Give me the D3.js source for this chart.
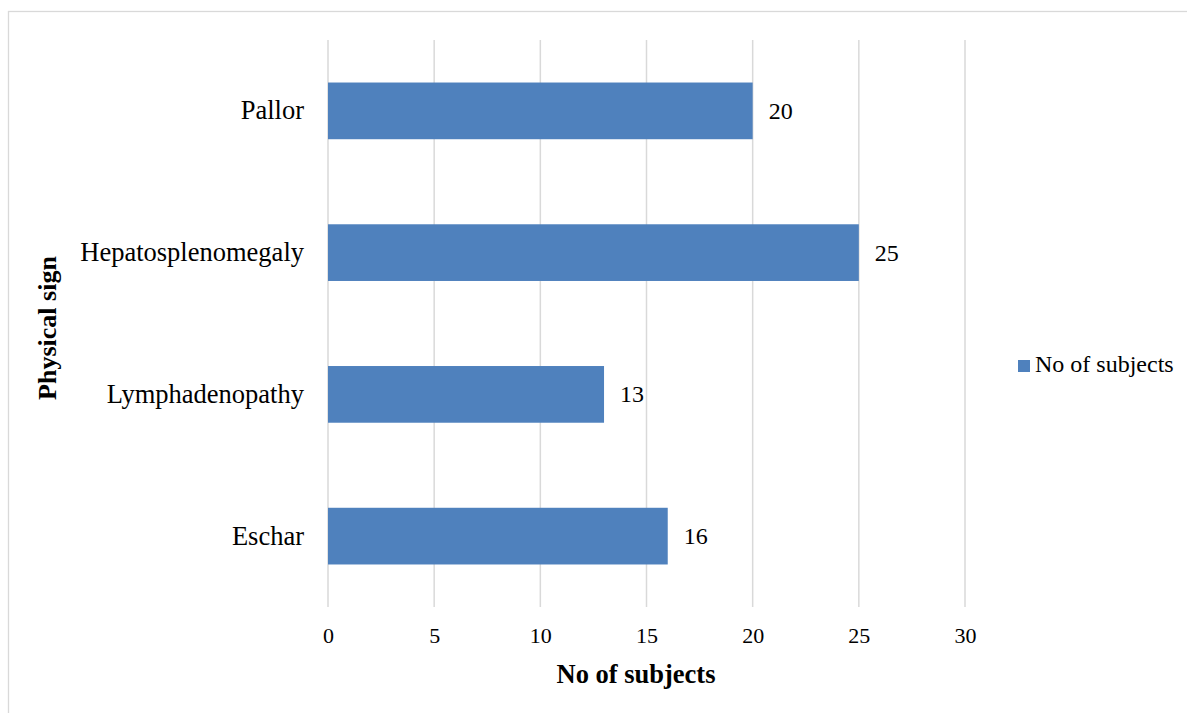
<!DOCTYPE html>
<html>
<head>
<meta charset="utf-8">
<script src="https://cdn.jsdelivr.net/npm/d3@7"></script>
<style>
  html, body { margin: 0; padding: 0; background: #fff; }
  svg { display: block; }
  svg text { font-family: "Liberation Serif", "Times New Roman", serif; fill: #000; }
</style>
</head>
<body>
<svg id="chart" width="1187" height="713"></svg>
<script>
// Physical signs and the number of subjects showing each one
const categories = ["Pallor", "Hepatosplenomegaly", "Lymphadenopathy", "Eschar"];
const subjects = [20, 25, 13, 16];
const xTicks = [0, 5, 10, 15, 20, 25, 30];
const seriesName = "No of subjects";
const xTitle = "No of subjects";
const yTitle = "Physical sign";

const svg = d3.select("#chart");
const W = 1187, H = 713;
const margin = { left: 328, right: 222, top: 40, bottom: 106 };

// Outer frame of the chart area
svg.append("rect")
  .attr("x", 8.5).attr("y", 11.5)
  .attr("width", W + 10).attr("height", H + 10)
  .attr("fill", "none").attr("stroke", "#d9d9d9").attr("stroke-width", 1.3);

const x = d3.scaleLinear().domain([0, 30]).range([margin.left, W - margin.right]);
const y = d3.scaleBand().domain(categories)
  .range([margin.top, H - margin.bottom])
  .paddingInner(0.6).paddingOuter(0.3);

// Vertical gridlines
svg.append("g")
  .selectAll("line").data(xTicks).join("line")
  .attr("x1", d => x(d)).attr("x2", d => x(d))
  .attr("y1", margin.top).attr("y2", H - margin.bottom)
  .attr("stroke", "#d9d9d9").attr("stroke-width", 1.5);

// X axis tick labels
const xAxis = d3.axisBottom(x).tickValues(xTicks).tickSize(0).tickPadding(20);
const gx = svg.append("g")
  .attr("transform", `translate(0,${H - margin.bottom})`)
  .call(xAxis)
  .attr("font-family", null).attr("font-size", null);
gx.select(".domain").remove();
gx.selectAll("text").style("font-size", "22px");

// Y axis category labels
const yAxis = d3.axisLeft(y).tickSize(0).tickPadding(24);
const gy = svg.append("g")
  .attr("transform", `translate(${margin.left},0)`)
  .call(yAxis)
  .attr("font-family", null).attr("font-size", null);
gy.select(".domain").remove();
gy.selectAll("text").style("font-size", "26.5px");

// Bars
svg.append("g")
  .selectAll("rect").data(categories).join("rect")
  .attr("x", x(0))
  .attr("y", d => y(d))
  .attr("width", (d, i) => x(subjects[i]) - x(0))
  .attr("height", y.bandwidth())
  .attr("fill", "#4f81bd");

// Value labels at bar ends
svg.append("g")
  .selectAll("text").data(categories).join("text")
  .attr("x", (d, i) => x(subjects[i]) + 16)
  .attr("y", d => y(d) + y.bandwidth() / 2)
  .attr("dy", "0.33em")
  .style("font-size", "24px")
  .text((d, i) => subjects[i]);

// Axis titles
svg.append("text")
  .attr("x", 636)
  .attr("y", 683)
  .attr("text-anchor", "middle")
  .style("font-size", "26.5px").style("font-weight", "bold")
  .text(xTitle);

svg.append("text")
  .attr("transform", `translate(56,328) rotate(-90)`)
  .attr("text-anchor", "middle")
  .style("font-size", "26px").style("font-weight", "bold")
  .text(yTitle);

// Legend
const lg = svg.append("g").attr("transform", "translate(1018,372)");
lg.append("rect").attr("x", 0).attr("y", -12).attr("width", 12).attr("height", 12)
  .attr("fill", "#4f81bd");
lg.append("text").attr("x", 17).attr("y", 0)
  .style("font-size", "24px")
  .text(seriesName);
</script>
</body>
</html>
